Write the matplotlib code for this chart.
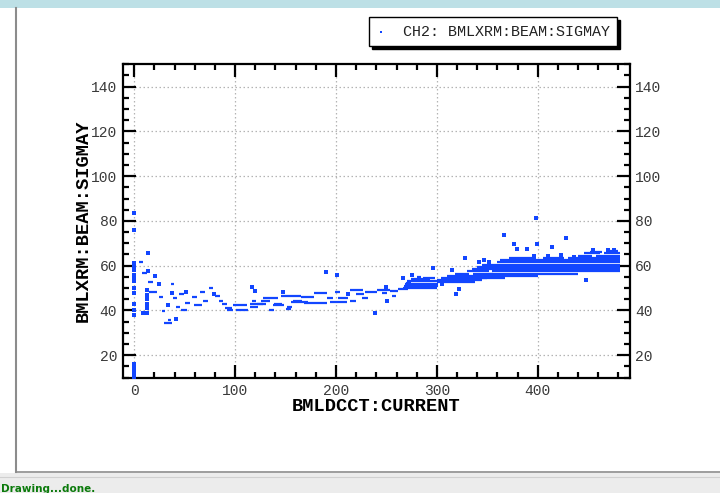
import matplotlib
matplotlib.use("Agg")
import matplotlib.pyplot as plt
from matplotlib.patches import Rectangle
from matplotlib.lines import Line2D
from matplotlib.ticker import MultipleLocator

# ---------------- data ----------------
series_name = "CH2: BMLXRM:BEAM:SIGMAY"
x_label = "BMLDCCT:CURRENT"
y_label = "BMLXRM:BEAM:SIGMAY"
x_ticks = [0, 100, 200, 300, 400]
y_ticks = [20, 40, 60, 80, 100, 120, 140]

# isolated samples (current, sigma_y)
pt_x = [0, 0, 0, 0, 0, 0, 0, 0, 0, 0, 0, 0, 0, 0,
        0, 0, 0, 0, 0, 0, 0,
        13, 13, 13, 13, 13, 13, 14, 14, 9,
        21, 24, 37, 33.5, 41.5, 51.5, 79,
        117, 120, 147, 190.5, 201, 212, 250, 251, 239,
        266, 275, 296, 305, 315, 318.5, 321.7, 328,
        367, 376, 379.6, 389, 398.7, 399, 414, 427.8, 448,
        342, 347, 352, 396, 410, 423, 436, 455, 470, 476]
pt_y = [83.5, 76, 61, 60, 59, 58, 56, 55, 53, 50, 48, 43, 40, 38,
        16, 15, 14, 13, 12, 11, 10.4,
        49, 47, 45, 43, 41, 39, 65.6, 57.6, 38.7,
        55.4, 51.7, 47.7, 42.3, 36.2, 48.1, 47.4,
        50.3, 48.8, 48.1, 57.1, 56, 47.5, 50.3, 44, 38.7,
        54.3, 55.8, 58.8, 52, 58, 47.2, 49.4, 63.3,
        73.5, 69.5, 67.3, 67.3, 81.2, 69.5, 68.3, 72.5, 53.4,
        61.5, 62.5, 61.8, 64.5, 64.2, 64.8, 64.0, 67.0, 67.2, 66.8]

# runs of consecutive samples at one sigma level: start, end, level
run_x0 = [5, 8, 14, 15, 24, 27, 29, 33, 36, 38.5, 41.5, 44, 46.5, 50.5, 57.5,
          59.5, 65.5, 68.5, 74.5, 80.5, 84, 87, 90, 92, 98, 101, 117, 115, 115,
          122, 126, 128, 134, 138, 139, 145, 151, 150, 155, 157, 165, 168, 178,
          191, 199, 194, 202, 214, 220, 214, 226, 229, 241, 246, 254, 256, 261,
          269,
          266, 267, 268, 270, 274, 280, 286,
          300, 300, 304, 310, 318, 336, 330, 335, 340, 345,
          340, 350, 352, 355, 356, 356, 358, 360, 363,
          372, 405, 430, 440, 458, 446, 466, 452, 470]
run_x1 = [9, 13, 19, 23, 28, 30, 37, 36, 39, 42.5, 45, 49, 52.5, 55.5, 62.5,
          67, 70.5, 73.5, 78, 85, 88, 92, 97, 98, 112, 113, 121, 128, 123,
          131, 135, 142, 139, 148, 146, 165, 156, 155, 172, 166, 178, 191, 191,
          197, 204, 211, 212, 227, 228, 220, 232, 241, 254, 251, 261, 259, 271,
          274,
          300, 301, 301, 300, 293, 284, 298,
          338, 345, 350, 356, 332, 356, 352, 356, 356, 358,
          368, 400, 440, 482, 482, 482, 482, 482, 482,
          398, 426, 482, 454, 482, 462, 482, 464, 480]
run_y = [61.5, 56.6, 52.6, 48.1, 45.9, 39.6, 34.3, 35.6, 51.7, 45.4, 41.4, 47.2,
         40.0, 43.2, 45.9, 42.3, 48.1, 44.1, 49.9, 46.3, 44.0, 43.0, 41.3, 40.0,
         42.3, 40.4, 44.0, 43.0, 41.5, 43.0, 44.0, 45.4, 40.4, 42.3, 43.0, 46.6,
         41.5, 40.7, 43.6, 44.0, 45.9, 43.2, 47.7, 45.4, 48.1, 43.6, 45.4, 49.0,
         47.5, 44.0, 45.4, 48.1, 49.0, 47.6, 48.6, 46.3, 49.5, 52.1,
         50.0, 51.0, 52.0, 53.0, 54.0, 55.0, 54.5,
         52.5, 53.5, 54.5, 55.5, 56.5, 56.5, 57.5, 58.5, 59.5, 60.5,
         54.5, 55.5, 56.5, 57.5, 58.5, 59.5, 60.5, 61.5, 62.5,
         63.5, 63.5, 63.5, 64.5, 64.5, 65.5, 65.5, 66.3, 66.5]

# ---------------- figure ----------------
W, H = 720, 493
fig = plt.figure(figsize=(W / 100, H / 100), dpi=100)
fig.patch.set_facecolor("white")

def fx(px):
    return px / W

def fy(py):
    return 1 - py / H

# window chrome
fig.add_artist(Rectangle((0, fy(8)), 1, 8 / H, transform=fig.transFigure,
                         facecolor="#bde0e6", edgecolor="none", zorder=0))
fig.add_artist(Line2D([fx(16), fx(16)], [fy(8), fy(472)], transform=fig.transFigure,
                      color="#8c8c8c", lw=1.5, zorder=1))
fig.add_artist(Rectangle((0, 0), 1, fy(473), transform=fig.transFigure,
                         facecolor="#ececec", edgecolor="none", zorder=0))
fig.add_artist(Line2D([fx(16), 1], [fy(472), fy(472)], transform=fig.transFigure,
                      color="#8c8c8c", lw=1.2, zorder=1))
fig.add_artist(Line2D([0, 1], [fy(477), fy(477)], transform=fig.transFigure,
                      color="#d0d0d0", lw=0.8, zorder=1))
fig.text(fx(1), fy(489), "Drawing...done.", color="#0b7a0b", fontsize=7.5,
         fontweight="bold", family="DejaVu Sans", va="center", ha="left")

blue = "#1246ff"
mono = ["Liberation Mono", "DejaVu Sans Mono"]

ax = fig.add_axes([fx(122.7), fy(378), fx(629.5) - fx(122.7), fy(64.3) - fy(378)])
ax.set_xlim(-11.5, 491)
ax.set_ylim(9.8, 150)

ax.hlines(run_y, run_x0, run_x1, colors=blue, lw=1.6, zorder=3)
sc = ax.scatter(pt_x, pt_y, s=5.8, marker="s", color=blue, linewidths=0, zorder=3,
                label=series_name)

ax.set_xticks(x_ticks)
ax.set_yticks(y_ticks)
ax.xaxis.set_minor_locator(MultipleLocator(20))
ax.yaxis.set_minor_locator(MultipleLocator(5))
ax.grid(True, which="major", color="#b4b4b4", linestyle=(0, (1.2, 2)), lw=0.9)
ax.set_axisbelow(True)
for sp in ax.spines.values():
    sp.set_linewidth(1.6)
    sp.set_color("black")
ax.tick_params(which="both", direction="in", top=True, right=True,
               labelright=True, width=1.6, color="black")
ax.tick_params(which="major", length=9.5, pad=4, labelsize=10.5, labelcolor="#3a3a3a")
ax.tick_params(which="minor", length=4.5)
for lab in ax.get_xticklabels() + ax.get_yticklabels():
    lab.set_family(mono)
for t in ax.yaxis.get_major_ticks():
    t.label2.set_family(mono)

ax.set_xlabel(x_label, family=mono, fontweight="bold", fontsize=13.5)
ax.set_ylabel(y_label, family=mono, fontweight="bold", fontsize=13.5)
ax.xaxis.set_label_coords(0.5, -0.092)
ax.xaxis.label.set_verticalalignment("center")
ax.yaxis.set_label_coords(-0.077, 0.5)
ax.yaxis.label.set_verticalalignment("center")

leg = fig.legend(handles=[sc], loc="upper left",
                 bbox_to_anchor=(fx(369), fy(17)), frameon=True, fancybox=False,
                 edgecolor="black", framealpha=1, borderaxespad=0,
                 prop={"family": mono, "size": 10.8}, handlelength=0.6,
                 handletextpad=1.15, borderpad=0.5, markerscale=0.8,
                 shadow={"color": "black", "alpha": 1.0})
leg.get_frame().set_linewidth(1.0)
for t in leg.get_texts():
    t.set_color("#222222")

fig.savefig("out.png", dpi=100)
